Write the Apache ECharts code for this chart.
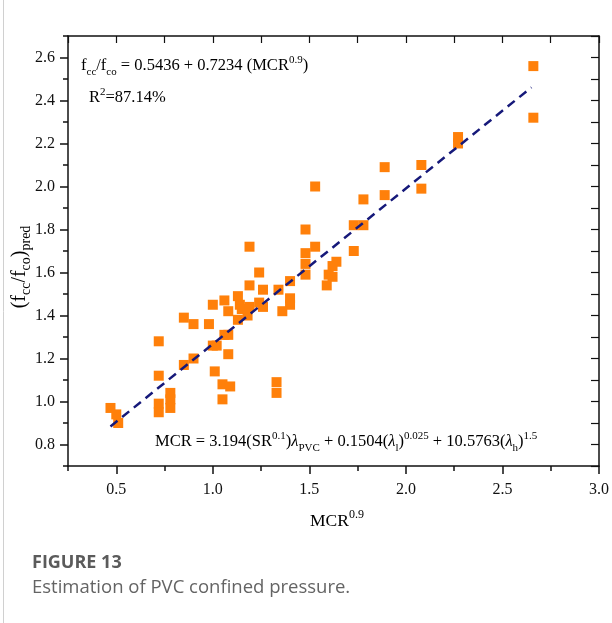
<!DOCTYPE html>
<html>
<head>
<meta charset="utf-8">
<script src="https://cdn.jsdelivr.net/npm/echarts@6/dist/echarts.min.js"></script>
<style>
  html, body { margin: 0; padding: 0; background: #fff; }
  #chart { width: 612px; height: 623px; }
</style>
</head>
<body>
<div id="chart"></div>
<script>
// MCR^0.9 for each specimen
const mcrValues = [
  2.66, 2.66, 2.27, 2.27, 1.89, 2.08, 1.53, 2.08, 1.78, 1.89,
  1.73, 1.78, 1.73, 1.48, 1.53, 1.48, 1.48, 1.48, 1.64, 1.62,
  1.60, 1.62, 1.59, 1.40, 1.40, 1.40, 1.34, 1.36, 1.19, 1.24,
  1.19, 1.26, 1.13, 1.14, 1.15, 1.19, 1.24, 1.26, 1.06, 1.00,
  1.08, 1.13, 1.18, 0.85, 0.90, 0.98, 1.06, 1.08, 1.00, 1.02,
  0.72, 1.08, 0.90, 0.85, 1.01, 1.05, 1.09, 1.33, 1.33, 1.05,
  0.72, 0.78, 0.78, 0.72, 0.72, 0.78, 0.47, 0.50, 0.51
];
// predicted confinement ratio fcc/fco
const predValues = [
  2.56, 2.32, 2.23, 2.20, 2.09, 2.10, 2.00, 1.99, 1.94, 1.96,
  1.82, 1.82, 1.70, 1.80, 1.72, 1.69, 1.64, 1.59, 1.65, 1.63,
  1.59, 1.58, 1.54, 1.56, 1.48, 1.45, 1.52, 1.42, 1.72, 1.60,
  1.54, 1.52, 1.49, 1.45, 1.43, 1.44, 1.46, 1.44, 1.47, 1.45,
  1.42, 1.38, 1.40, 1.39, 1.36, 1.36, 1.31, 1.31, 1.26, 1.26,
  1.28, 1.22, 1.20, 1.17, 1.14, 1.08, 1.07, 1.09, 1.04, 1.01,
  1.12, 1.04, 1.01, 0.99, 0.95, 0.97, 0.97, 0.94, 0.90
];
// regression line end points
const fitX = [0.47, 2.65];
const fitY = [0.884, 2.461];

const xMajorTicks = [0.5, 1.0, 1.5, 2.0, 2.5, 3.0];
const xMinorTicks = [0.25, 0.75, 1.25, 1.75, 2.25, 2.75];
const yMajorTicks = [0.8, 1.0, 1.2, 1.4, 1.6, 1.8, 2.0, 2.2, 2.4, 2.6];
const yMinorTicks = [0.7, 0.9, 1.1, 1.3, 1.5, 1.7, 1.9, 2.1, 2.3, 2.5, 2.7];

const SERIF = '"Liberation Serif", "Times New Roman", serif';
const SANS = '"Open Sans", "Noto Sans", sans-serif';
const AX = '#111';

const chart = echarts.init(document.getElementById('chart'), null, { renderer: 'canvas' });

const baseX = {
  type: 'value', min: 0.25, max: 3.0,
  splitLine: { show: false },
  axisLine: { show: true, lineStyle: { color: AX, width: 1.5 } }
};
const baseY = {
  type: 'value', min: 0.7, max: 2.7,
  splitLine: { show: false },
  axisLine: { show: true, lineStyle: { color: AX, width: 1.5 } }
};

// rich-text styles: normal run, superscript, subscript, italic lambda
function richFor(size, small, lh) {
  return {
    t: { fontFamily: SERIF, fontSize: size, color: AX, lineHeight: lh },
    p: { fontFamily: SERIF, fontSize: small, color: AX, verticalAlign: 'top', lineHeight: lh },
    b: { fontFamily: SERIF, fontSize: small, color: AX, verticalAlign: 'bottom', lineHeight: lh },
    l: { fontFamily: SERIF, fontSize: size, fontStyle: 'italic', color: AX, lineHeight: lh }
  };
}
const richEq = richFor(16.5, 11, 23);
const richXName = richFor(17.5, 12, 24);
const richTitle = richFor(20, 14, 27);

chart.setOption({
  animation: false,
  backgroundColor: '#fff',
  grid: { left: 68, top: 36, right: 11, bottom: 157, containLabel: false },
  xAxis: [
    Object.assign({}, baseX, {
      position: 'bottom',
      axisTick: { show: true, customValues: xMajorTicks, length: 8, lineStyle: { color: AX, width: 1.5 } },
      axisLabel: {
        show: true, customValues: xMajorTicks, margin: 16,
        formatter: v => Number(v).toFixed(1),
        fontFamily: SERIF, fontSize: 16, color: AX
      }
    }),
    Object.assign({}, baseX, {
      position: 'bottom',
      axisLine: { show: false },
      axisTick: { show: true, customValues: xMinorTicks, length: 5, lineStyle: { color: AX, width: 1.5 } },
      axisLabel: { show: false }
    }),
    Object.assign({}, baseX, {
      position: 'top', interval: 0.25,
      axisTick: { show: true, inside: true, length: 7, lineStyle: { color: AX, width: 1.2 } },
      axisLabel: { show: false }
    })
  ],
  yAxis: [
    Object.assign({}, baseY, {
      position: 'left',
      axisTick: { show: true, customValues: yMajorTicks, length: 8, lineStyle: { color: AX, width: 1.5 } },
      axisLabel: {
        show: true, customValues: yMajorTicks, margin: 13,
        formatter: v => Number(v).toFixed(1),
        fontFamily: SERIF, fontSize: 16, color: AX
      }
    }),
    Object.assign({}, baseY, {
      position: 'left',
      axisLine: { show: false },
      axisTick: { show: true, customValues: yMinorTicks, length: 5, lineStyle: { color: AX, width: 1.5 } },
      axisLabel: { show: false }
    }),
    Object.assign({}, baseY, {
      position: 'right', interval: 0.1,
      axisTick: { show: true, inside: true, length: 8, lineStyle: { color: AX, width: 1.2 } },
      axisLabel: { show: false }
    })
  ],
  series: [
    {
      type: 'scatter',
      xAxisIndex: 0, yAxisIndex: 0,
      symbol: 'rect', symbolSize: 10,
      itemStyle: { color: '#ff800a', opacity: 1 },
      data: mcrValues.map((x, i) => [x, predValues[i]]),
      z: 3
    },
    {
      type: 'line',
      xAxisIndex: 0, yAxisIndex: 0,
      showSymbol: false, symbol: 'none',
      lineStyle: { color: '#16197a', width: 2.5, type: [9, 6] },
      data: fitX.map((x, i) => [x, fitY[i]]),
      z: 4
    }
  ],
  graphic: [
    { type: 'line', shape: { x1: 3.5, y1: 0, x2: 3.5, y2: 623 }, style: { stroke: '#d0d0d0', lineWidth: 1 }, silent: true },
    {
      type: 'text', x: 81, y: 66,
      style: {
        text: '{t|f}{b|cc}{t|/f}{b|co}{t| = 0.5436 + 0.7234 (MCR}{p|0.9}{t|)}',
        verticalAlign: 'middle', rich: richEq
      }
    },
    {
      type: 'text', x: 89, y: 98,
      style: { text: '{t|R}{p|2}{t|=87.14%}', verticalAlign: 'middle', rich: richEq }
    },
    {
      type: 'text', x: 155, y: 442,
      style: {
        text: '{t|MCR = 3.194(SR}{p|0.1}{t|)}{l|λ}{b|PVC}{t| + 0.1504(}{l|λ}{b|l}{t|)}{p|0.025}{t| + 10.5763(}{l|λ}{b|h}{t|)}{p|1.5}',
        verticalAlign: 'middle', rich: richEq
      }
    },
    {
      type: 'text', x: 337, y: 521,
      style: { text: '{t|MCR}{p|0.9}', align: 'center', verticalAlign: 'middle', rich: richXName }
    },
    {
      type: 'text', x: 20, y: 267, rotation: Math.PI / 2,
      style: {
        text: '{t|(f}{b|cc}{t|/f}{b|co}{t|)}{b|pred}',
        align: 'center', verticalAlign: 'middle', rich: richTitle
      }
    },
    {
      type: 'text', x: 32, y: 563,
      style: { text: 'FIGURE 13', fontFamily: SANS, fontSize: 18, fontWeight: 'bold', fill: '#5b5b5b', verticalAlign: 'middle' }
    },
    {
      type: 'text', x: 32, y: 588,
      style: { text: 'Estimation of PVC confined pressure.', fontFamily: SANS, fontSize: 18.5, fill: '#646464', verticalAlign: 'middle' }
    }
  ]
});
</script>
</body>
</html>
